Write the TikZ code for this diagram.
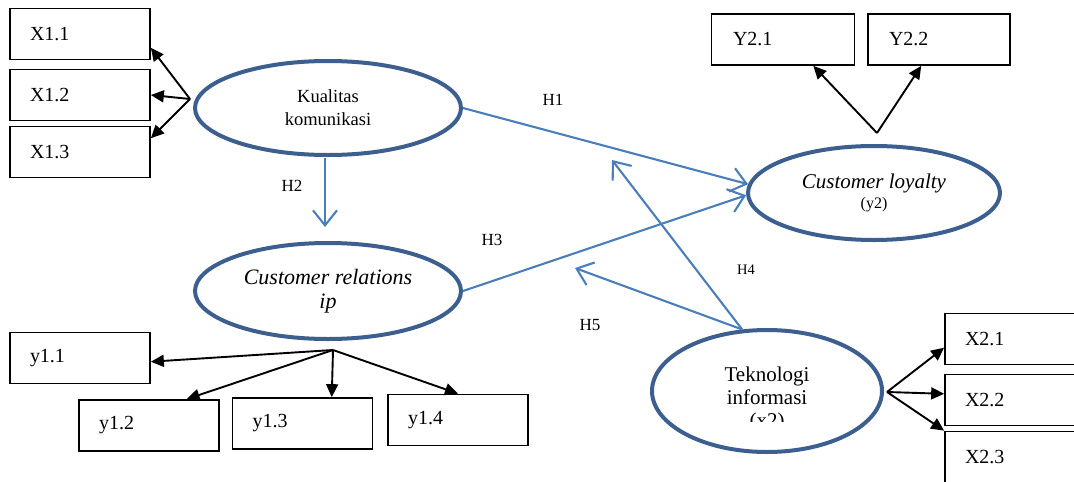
\documentclass[tikz,border=0pt]{standalone}
\usepackage{fontspec}
\setmainfont{Liberation Serif}
\usetikzlibrary{shapes.geometric,arrows.meta}
\definecolor{latentblue}{HTML}{3C5F8F}
\definecolor{pathblue}{HTML}{4A7EBB}

\begin{document}
\begin{tikzpicture}[x=1pt,y=-1pt,
  indicator/.style={draw,line width=1.7pt,minimum width=140pt,minimum height=51pt,
    text width=100pt,inner xsep=20pt,align=left,font=\fontsize{20}{24}\selectfont},
  latent/.style={ellipse,draw=latentblue,line width=4pt,inner sep=0pt,align=center},
  loading/.style={line width=1.9pt,-{Triangle[length=13pt,width=12pt]}},
  hypo/.style={pathblue,line width=2.1pt,-{Straight Barb[length=15pt,width=24pt]}},
  hlabel/.style={font=\fontsize{17}{20}\selectfont}]
\useasboundingbox (0,0) rectangle (1074,482);

% latent variables
\node[latent,minimum width=266pt,minimum height=94pt,font=\fontsize{18.5}{23}\selectfont]
  (kom) at (328,108) {Kualitas\\komunikasi};
\node[latent,minimum width=266pt,minimum height=96pt,font=\fontsize{22}{24}\selectfont\itshape]
  (crel) at (328,291) {Customer relations\\ip};
\node[latent,minimum width=252pt,minimum height=94pt]
  (loyal) at (874,193) {{\fontsize{21}{25}\selectfont\itshape Customer loyalty}\\[3pt]{\fontsize{16}{19}\selectfont (y2)}};
\node[latent,minimum width=230pt,minimum height=122pt] (tek) at (767,391) {};
\begin{scope}
\clip (680,350) rectangle (860,421);
\node[align=center,font=\fontsize{21}{23}\selectfont] (tektext) at (767,399) {Teknologi\\informasi\\(x2)};
\end{scope}

% indicators
\node[indicator] (x11) at (80,34) {X1.1};
\node[indicator] (x12) at (80,95) {X1.2};
\node[indicator] (x13) at (80,152) {X1.3};
\node[indicator,minimum width=143pt] (y21) at (783,39.5) {Y2.1};
\node[indicator,minimum width=142pt] (y22) at (939,39.5) {Y2.2};
\node[indicator] (x21) at (1015,339) {X2.1};
\node[indicator] (x22) at (1015,400) {X2.2};
\node[indicator] (x23) at (1015,457) {X2.3};
\node[indicator] (y11) at (80,358) {y1.1};
\node[indicator,minimum width=138pt] (y12) at (149,425.5) {y1.2};
\node[indicator,minimum width=139pt] (y13) at (302.5,423.5) {y1.3};
\node[indicator] (y14) at (458,420) {y1.4};

% loadings
\coordinate (komfan) at (190,99);
\coordinate (loyalfan) at (877,133);
\coordinate (tekfan) at (887,392);
\coordinate (crelfan) at (333,350);
\draw[loading] (komfan) -- (x11.-11);
\draw[loading] (komfan) -- (x12.east);
\draw[loading] (komfan) -- (x13.11);
\draw[loading] (loyalfan) -- (y21.-41);
\draw[loading] (loyalfan) -- (y22.-124);
\draw[loading] (tekfan) -- (x21.187);
\draw[loading] (tekfan) -- (x22.175);
\draw[loading] (tekfan) -- (x23.north west);
\draw[loading] (crelfan) -- (y11.-3);
\draw[loading] (crelfan) -- (y12.35);
\draw[loading] (crelfan) -- (y13.42);
\draw[loading] (crelfan) -- (y14.north);

% hypotheses
\coordinate (h2start) at (325,158);
\coordinate (h2end) at (325,227);
\coordinate (h4end) at (612,160);
\coordinate (h5end) at (575,268);
\draw[hypo] (kom.east) -- (loyal.176);
\draw[hypo] (h2start) -- (h2end);
\draw[hypo] (crel.east) -- (loyal.181);
\draw[hypo] (tek.112) -- (h4end);
\draw[hypo] (tek.112) -- (h5end);

\node[hlabel] (h1) at (553,100) {H1};
\node[hlabel] (h2) at (292,186) {H2};
\node[hlabel] (h3) at (492,240) {H3};
\node[hlabel,font=\fontsize{14.5}{17}\selectfont] (h4) at (746,270) {H4};
\node[hlabel] (h5) at (590,325) {H5};
\end{tikzpicture}
\end{document}
